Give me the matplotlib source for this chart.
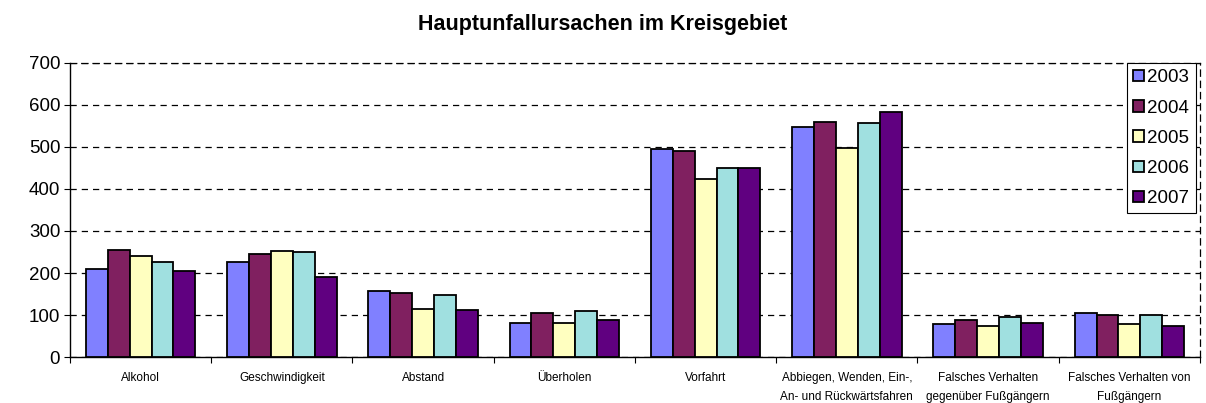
import numpy as np
import matplotlib
matplotlib.use("Agg")
import matplotlib.pyplot as plt

plt.rcParams['font.family'] = ['Liberation Sans', 'DejaVu Sans']

# Kategorien und Werte
categories = ['Alkohol', 'Geschwindigkeit', 'Abstand', 'Überholen', 'Vorfahrt',
              'Abbiegen, Wenden, Ein-,\nAn- und Rückwärtsfahren',
              'Falsches Verhalten\ngegenüber Fußgängern',
              'Falsches Verhalten von\nFußgängern']
years = ['2003', '2004', '2005', '2006', '2007']
v2003 = [210, 225, 157, 82, 495, 548, 78, 106]
v2004 = [255, 245, 152, 105, 490, 560, 89, 99]
v2005 = [240, 253, 115, 81, 423, 498, 75, 78]
v2006 = [226, 251, 148, 109, 451, 556, 96, 99]
v2007 = [204, 191, 113, 87, 449, 584, 82, 74]
series = [v2003, v2004, v2005, v2006, v2007]
colors = ['#8080ff', '#802060', '#ffffc0', '#a0e0e0', '#600080']

fig = plt.figure(figsize=(12.06, 4.03), dpi=100)
ax = fig.add_axes([0.058, 0.114, 0.937, 0.73])

x = np.arange(len(categories))
w = 0.155
for i, vals in enumerate(series):
    ax.bar(x + (i - 2) * w, vals, w, color=colors[i], edgecolor='black',
           linewidth=1.3, label=years[i], zorder=3)

ax.set_xlim(-0.5, len(categories) - 0.5)
ax.set_ylim(0, 700)
ax.set_yticks(range(0, 701, 100))
ax.tick_params(axis='y', labelsize=13.5, length=4, direction='out', pad=3)
ax.yaxis.grid(True, linestyle=(0, (5, 4)), color='black', linewidth=0.9, zorder=0)

# x-Ticks an den Kategoriegrenzen, Beschriftung mittig
ax.set_xticks(np.arange(-0.5, len(categories), 1))
ax.set_xticklabels([])
ax.set_xticks(x, minor=True)
ax.set_xticklabels(categories, minor=True, fontsize=8.5, linespacing=1.7)
ax.tick_params(axis='x', which='major', length=4)
ax.tick_params(axis='x', which='minor', length=0, pad=11)

for side in ['top', 'right']:
    ax.spines[side].set_linestyle((0, (5, 4)))
    ax.spines[side].set_linewidth(0.9)
ax.spines['left'].set_linewidth(1.0)
ax.spines['bottom'].set_linewidth(1.0)

fig.suptitle('Hauptunfallursachen im Kreisgebiet', fontsize=15.5, fontweight='bold', y=0.965)

leg = ax.legend(loc='upper right', bbox_to_anchor=(0.9965, 1.0), fontsize=13.5,
                frameon=True, fancybox=False, edgecolor='black', framealpha=1,
                handlelength=0.55, handleheight=0.55, handletextpad=0.2,
                labelspacing=0.7, borderpad=0.35, borderaxespad=0)
leg.get_frame().set_linewidth(0.8)
leg.set_zorder(5)

fig.savefig('out.png', dpi=100)
